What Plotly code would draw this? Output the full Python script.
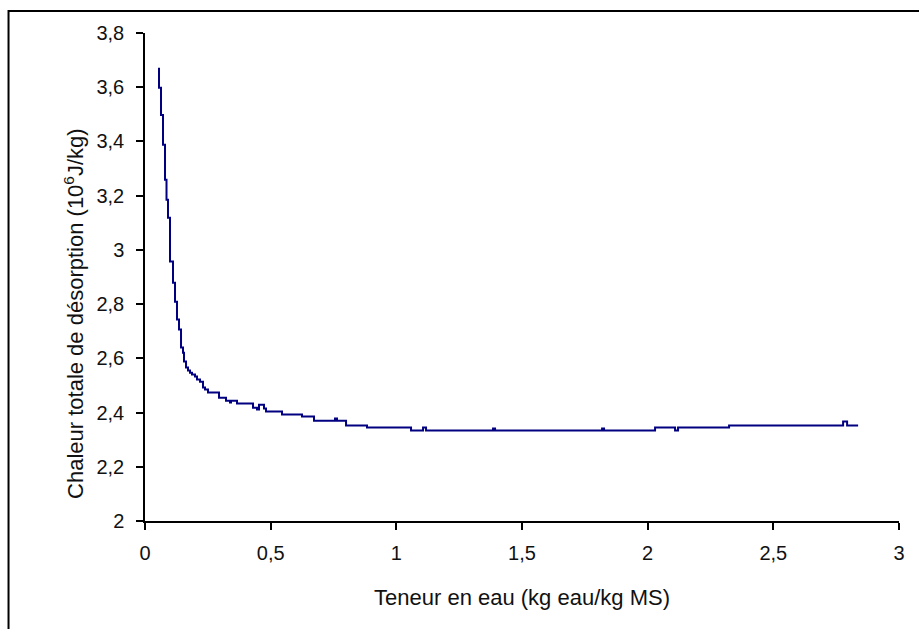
import plotly.graph_objects as go

# Step-wise curve (hv steps): water content (kg eau/kg MS) vs total desorption heat (10^6 J/kg)
teneur = [0.0557, 0.0557, 0.0637, 0.0716, 0.0796, 0.0856, 0.0915, 0.0995, 0.1114, 0.1194,
          0.1273, 0.1353, 0.1433, 0.1512, 0.1552, 0.1632, 0.1711, 0.1791, 0.1870, 0.1990,
          0.2069, 0.2189, 0.2308, 0.2388, 0.2507, 0.2945, 0.3223, 0.3382, 0.3422, 0.3661,
          0.4298, 0.4457, 0.4536, 0.4735, 0.4815, 0.5452, 0.6248, 0.6725, 0.7561, 0.7640,
          0.7999, 0.8834, 1.0585, 1.1063, 1.1182, 1.3848, 1.3928, 1.8186, 1.8265, 2.0294,
          2.1090, 2.1209, 2.3239, 2.7776, 2.7935, 2.8373]
chaleur = [3.672, 3.598, 3.498, 3.388, 3.259, 3.185, 3.119, 2.957, 2.879, 2.809,
           2.743, 2.706, 2.640, 2.621, 2.588, 2.566, 2.555, 2.547, 2.540, 2.533,
           2.522, 2.514, 2.492, 2.485, 2.474, 2.455, 2.444, 2.437, 2.444, 2.433,
           2.418, 2.411, 2.429, 2.415, 2.404, 2.393, 2.385, 2.370, 2.378, 2.370,
           2.352, 2.345, 2.334, 2.345, 2.334, 2.341, 2.334, 2.341, 2.334, 2.345,
           2.334, 2.345, 2.352, 2.367, 2.352, 2.352]

x_tickvals = [0, 0.5, 1, 1.5, 2, 2.5, 3]
x_ticktext = ["0", "0,5", "1", "1,5", "2", "2,5", "3"]
y_tickvals = [2, 2.2, 2.4, 2.6, 2.8, 3, 3.2, 3.4, 3.6, 3.8]
y_ticktext = ["2", "2,2", "2,4", "2,6", "2,8", "3", "3,2", "3,4", "3,6", "3,8"]

x_title = "Teneur en eau (kg eau/kg MS)"
y_title = "Chaleur totale de désorption (10<sup>6</sup>J/kg)"

FONT = "Liberation Sans, Arial, sans-serif"
TXT = "#111111"

fig = go.Figure()
fig.add_trace(go.Scatter(
    x=teneur, y=chaleur, mode="lines",
    line=dict(color="#000080", width=2, shape="hv"),
    showlegend=False, hoverinfo="x+y",
))

axis_common = dict(
    showgrid=False, zeroline=False, showline=True, linecolor="#000000", linewidth=1.5,
    ticks="outside", ticklen=7, tickwidth=1.5, tickcolor="#000000",
    tickfont=dict(family=FONT, size=20, color=TXT),
)

fig.update_xaxes(range=[0, 3], tickvals=x_tickvals, ticktext=x_ticktext,
                 ticklabelstandoff=6,
                 title=dict(text=x_title, font=dict(family=FONT, size=22, color=TXT), standoff=27),
                 **axis_common)
fig.update_yaxes(range=[2, 3.8], tickvals=y_tickvals, ticktext=y_ticktext,
                 ticklabelstandoff=8,
                 **axis_common)

# y-axis title (Excel places it slightly below the plot-area centre)
fig.add_annotation(text=y_title, xref="paper", yref="paper",
                   x=-0.095, y=0.425, xanchor="center", yanchor="middle",
                   textangle=-90, showarrow=False,
                   font=dict(family=FONT, size=22, color=TXT))

# outer chart-area frame (extends past the right and bottom edges of the picture)
fig.add_shape(type="rect", xref="paper", yref="paper",
              x0=-0.181, x1=1.05, y0=-0.3, y1=1.045,
              line=dict(color="#000000", width=2), fillcolor="rgba(0,0,0,0)", layer="below")

fig.update_layout(
    width=919, height=629,
    margin=dict(l=145, r=20, t=33, b=107.5, pad=0),
    paper_bgcolor="#ffffff", plot_bgcolor="#ffffff",
    separators=", ",
    font=dict(family=FONT, color=TXT),
)

fig.write_html(
    "out.html",
    config={"displayModeBar": False},
    post_script="document.body.style.margin='0';document.body.style.overflow='hidden';"
                "document.documentElement.style.overflow='hidden';",
)
